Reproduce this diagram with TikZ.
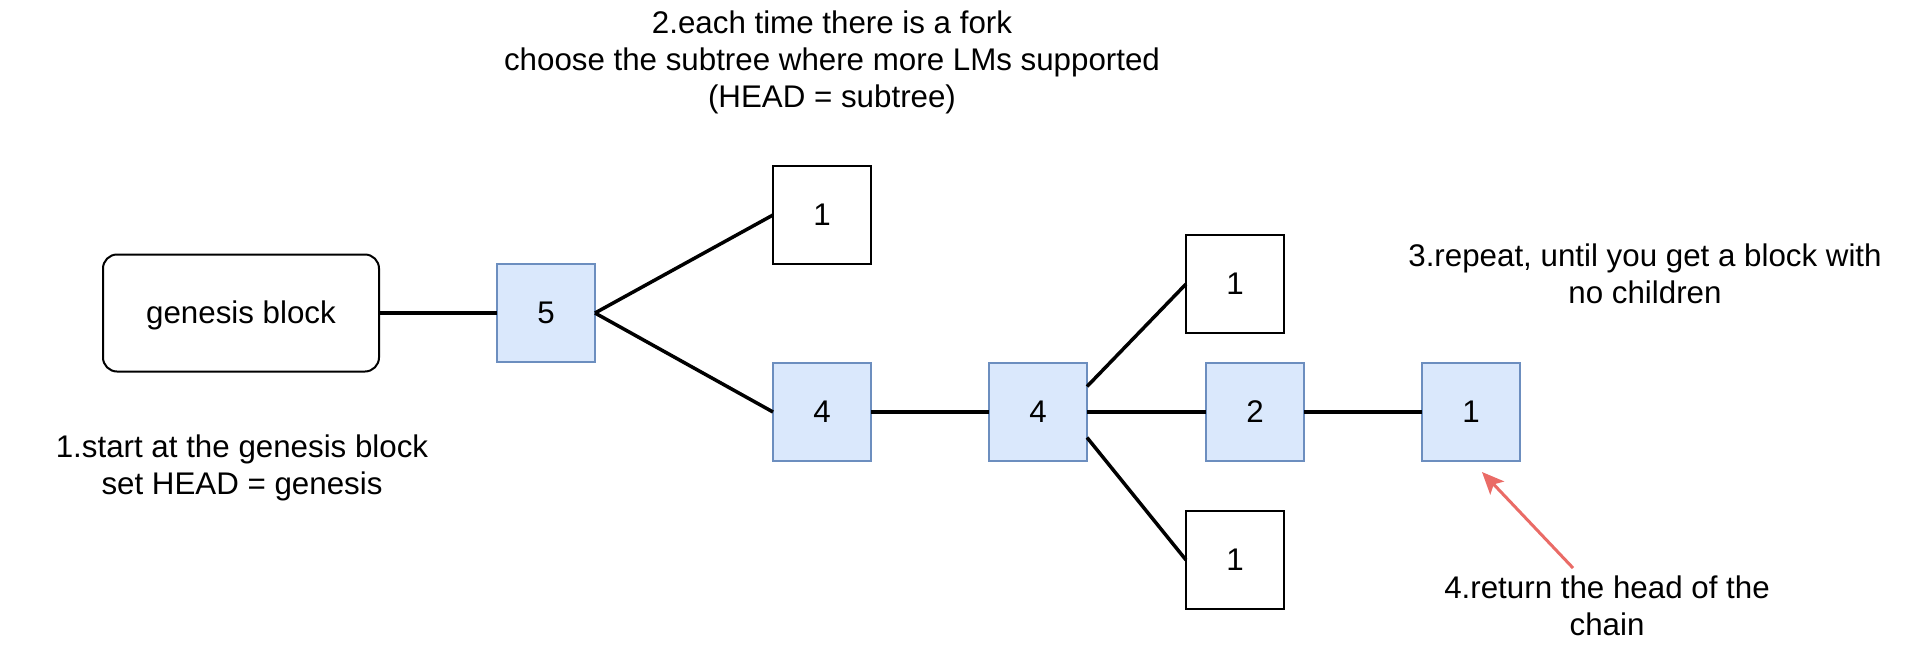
\documentclass[tikz,border=0pt]{standalone}
\usepackage{fontspec}
\setmainfont{Liberation Sans}
\usetikzlibrary{arrows.meta}
\definecolor{blueFill}{HTML}{DAE8FC}
\definecolor{blueLine}{HTML}{6C8EBF}
\definecolor{redArrow}{HTML}{EA6B66}
\begin{document}
\begin{tikzpicture}[x=1pt,y=-1pt,
  every node/.style={font=\fontsize{31.3}{37}\selectfont, outer sep=0pt, inner sep=0pt},
  blk/.style={draw=black, line width=2pt, fill=white, minimum width=98pt, minimum height=98pt, text height=22.5pt, text depth=2.5pt},
  chosen/.style={draw=blueLine, line width=1.5pt, fill=blueFill, minimum width=98pt, minimum height=98pt, text height=22.5pt, text depth=2.5pt},
  genesisbox/.style={draw=black, line width=2pt, fill=white, rounded corners=14pt, minimum width=276pt, minimum height=117pt, text height=22.5pt, text depth=2.5pt},
  link/.style={draw=black, line width=3.5pt},
  note/.style={align=center, anchor=base},
  pointer/.style={draw=redArrow, line width=3pt, -{Stealth[length=22pt, width=19pt, inset=5pt]}}
]
\fill[white] (0,0) rectangle (1905,648);
\useasboundingbox (0,0) rectangle (1905,648);

\node[genesisbox] (gen) at (241,313) {genesis block};
\node[chosen] (b5) at (546,313) {5};
\node[blk] (t1) at (822,215) {1};
\node[chosen] (a4) at (822,412) {4};
\node[chosen] (b4) at (1038,412) {4};
\node[blk] (u1) at (1235,284) {1};
\node[chosen] (c2) at (1255,412) {2};
\node[blk] (l1) at (1235,560) {1};
\node[chosen] (d1) at (1471,412) {1};

\draw[link] (gen.east) -- (b5.west);
\draw[link] (b5.east) -- (t1.west);
\draw[link] (b5.east) -- (a4.west);
\draw[link] (a4.east) -- (b4.west);
\draw[link] (b4.east) -- (c2.west);
\draw[link] (c2.east) -- (d1.west);
\draw[link] ([yshift=25.5pt]b4.east) -- (u1.west);
\draw[link] ([yshift=-25.5pt]b4.east) -- (l1.west);

\node[note] (n1) at (242,494) {1.start at the genesis block\\set HEAD = genesis};
\node[note] (n2) at (832,107) {2.each time there is a fork\\choose the subtree where more LMs supported\\(HEAD = subtree)};
\node[note] (n3) at (1645,303) {3.repeat, until you get a block with\\no children};
\node[note] (n4) at (1607,635) {4.return the head of the\\chain};

\coordinate (arrtail) at (1573,568);
\coordinate (arrtip) at (1482,472);
\draw[pointer] (arrtail) -- (arrtip);
\end{tikzpicture}
\end{document}
